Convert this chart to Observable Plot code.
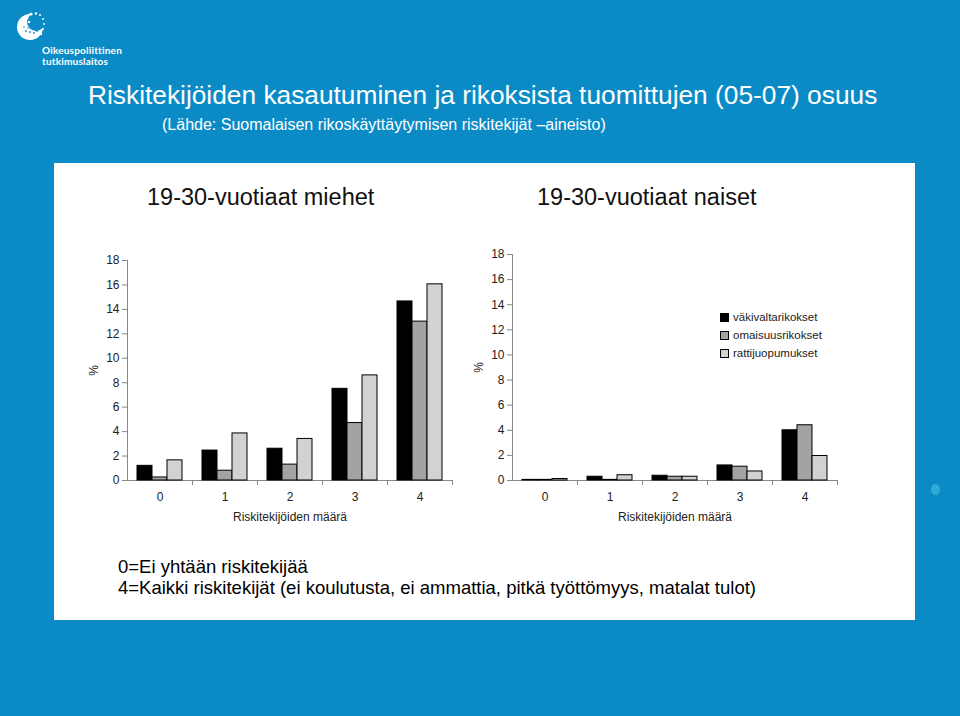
<!DOCTYPE html>
<html><head><meta charset="utf-8">
<script src="https://cdn.jsdelivr.net/npm/d3@7"></script>
<script src="https://cdn.jsdelivr.net/npm/@observablehq/plot@0.6"></script>
<style>
body{margin:0;}
#page{position:relative;width:960px;height:716px;background:#0b8bc6;overflow:hidden;font-family:"Liberation Sans",Arial,Helvetica,sans-serif;}
.abs{position:absolute;white-space:nowrap;line-height:1;}
#panel{position:absolute;left:54px;top:163px;width:861px;height:457px;background:#fff;}
.chart{position:absolute;top:240px;}
.legend{position:absolute;left:720px;top:308px;font-size:11.5px;color:#222;}
.legend div{height:18px;display:flex;align-items:center;}
.legend span.sw{display:inline-block;width:7px;height:7px;border:1px solid #000;margin-right:4px;}
</style></head>
<body><div id="page">
<svg class="abs" style="left:12px;top:9px" width="40" height="40" viewBox="0 0 40 40">
  <circle cx="18" cy="18" r="13" fill="#fff"/>
  <circle cx="24" cy="13" r="9" fill="#0b8bc6"/>
  <g fill="#fff">
    <circle cx="19" cy="5" r="1.6"/><circle cx="24" cy="4.5" r="1.2"/><circle cx="28" cy="6" r="1"/>
    <circle cx="31" cy="10" r="0.9"/><circle cx="32" cy="15" r="0.9"/><circle cx="31" cy="20" r="1"/>
    <circle cx="29" cy="25" r="1.2"/><circle cx="15" cy="9" r="1.4"/><circle cx="17" cy="13" r="1.3"/>
  </g>
  <g fill="#0b8bc6">
    <circle cx="14" cy="22" r="0.9"/><circle cx="18" cy="23" r="0.9"/><circle cx="22" cy="24" r="0.9"/><circle cx="25" cy="22" r="0.9"/>
    <circle cx="12" cy="18" r="0.8"/><circle cx="16" cy="19" r="0.8"/>
  </g>
</svg>
<div class="abs" style="left:42px;top:45px;font-size:10px;font-weight:bold;color:#fff;font-family:Lato,'Open Sans',sans-serif;letter-spacing:0.2px">Oikeuspoliittinen</div>
<div class="abs" style="left:42px;top:56px;font-size:10px;font-weight:bold;color:#fff;font-family:Lato,'Open Sans',sans-serif;letter-spacing:0.2px">tutkimuslaitos</div>
<div class="abs" style="left:88px;top:82px;font-size:26.3px;color:#fff">Riskitekijöiden kasautuminen ja rikoksista tuomittujen (05-07) osuus</div>
<div class="abs" style="left:162px;top:117px;font-size:16px;color:#fff">(Lähde: Suomalaisen rikoskäyttäytymisen riskitekijät –aineisto)</div>
<div id="panel"></div>
<div class="abs" style="left:147px;top:186px;font-size:23.5px;color:#111">19-30-vuotiaat miehet</div>
<div class="abs" style="left:537px;top:186px;font-size:23.5px;color:#111">19-30-vuotiaat naiset</div>
<div id="c1" class="chart" style="left:60px"></div>
<div id="c2" class="chart" style="left:445px"></div>
<div class="legend" id="legend"></div>
<div class="abs" style="left:118px;top:558px;font-size:18.5px;color:#000">0=Ei yhtään riskitekijää</div>
<div class="abs" style="left:118px;top:579px;font-size:18.5px;color:#000">4=Kaikki riskitekijät (ei koulutusta, ei ammattia, pitkä työttömyys, matalat tulot)</div>
<div class="abs" style="left:931px;top:484px;width:9px;height:11px;border-radius:50%;background:#2fa9d8"></div>
</div>
<script>
const categories = [0, 1, 2, 3, 4];
const seriesNames = ["väkivaltarikokset", "omaisuusrikokset", "rattijuopumukset"];
const seriesColors = ["#000000", "#a3a3a3", "#d2d2d2"];
const yTicks = [0, 2, 4, 6, 8, 10, 12, 14, 16, 18];
const xLabel = "Riskitekijöiden määrä";

const menViolence = [1.2, 2.45, 2.6, 7.5, 14.65];
const menProperty = [0.25, 0.8, 1.3, 4.7, 13.0];
const menDrunkDriving = [1.65, 3.85, 3.4, 8.6, 16.05];

const womenViolence = [0.05, 0.3, 0.38, 1.2, 4.0];
const womenProperty = [0.05, 0.05, 0.3, 1.1, 4.4];
const womenDrunkDriving = [0.12, 0.42, 0.3, 0.72, 1.95];

function build(values) {
  return categories.flatMap((c, i) => seriesNames.map((s, k) => ({cat: String(c), series: s, value: values[k][i]})));
}

function chart(data, marginTop) {
  const W = 400, H = 290, mL = 67, mR = 8, mB = 50;
  const band = (W - mL - mR) / categories.length;
  const barW = 15;
  const pad = (band - 3 * barW) / 2;
  return Plot.plot({
    width: W, height: H, marginLeft: mL, marginRight: mR, marginTop, marginBottom: mB,
    style: {fontFamily: "'Liberation Sans', Arial, sans-serif", fontSize: "12px", color: "#222", background: "transparent", overflow: "visible"},
    x: {domain: categories.map(String), padding: 0, axis: null},
    y: {domain: [0, 18], axis: null},
    marks: [
      Plot.ruleY([0], {stroke: "#888"}),
      Plot.ruleX([String(categories[0])], {dx: -band / 2, stroke: "#888"}),
      ...seriesNames.map((s, k) => Plot.barY(data.filter(d => d.series === s), {
        x: "cat", y: "value", fill: seriesColors[k], stroke: "#000", strokeWidth: 1,
        insetLeft: pad + k * barW, insetRight: pad + (2 - k) * barW
      })),
      Plot.axisY({ticks: yTicks, tickSize: 5, tickPadding: 3, stroke: "#888", color: "#222", label: "%", labelArrow: "none", labelAnchor: "center", labelOffset: 38}),
      Plot.axisX({tickSize: 0, tickPadding: 12, color: "#222", label: xLabel, labelArrow: "none", labelAnchor: "center", labelOffset: 40}),
      Plot.axisX({tickSize: 5, stroke: "#888", tickFormat: () => "", dx: band / 2, label: null})
    ]
  });
}

document.getElementById("c1").append(chart(build([menViolence, menProperty, menDrunkDriving]), 20));
document.getElementById("c2").append(chart(build([womenViolence, womenProperty, womenDrunkDriving]), 14));

const lg = document.getElementById("legend");
seriesNames.forEach((s, k) => {
  const row = document.createElement("div");
  row.innerHTML = `<span class="sw" style="background:${seriesColors[k]}"></span>${s}`;
  lg.append(row);
});
</script>
</body></html>
